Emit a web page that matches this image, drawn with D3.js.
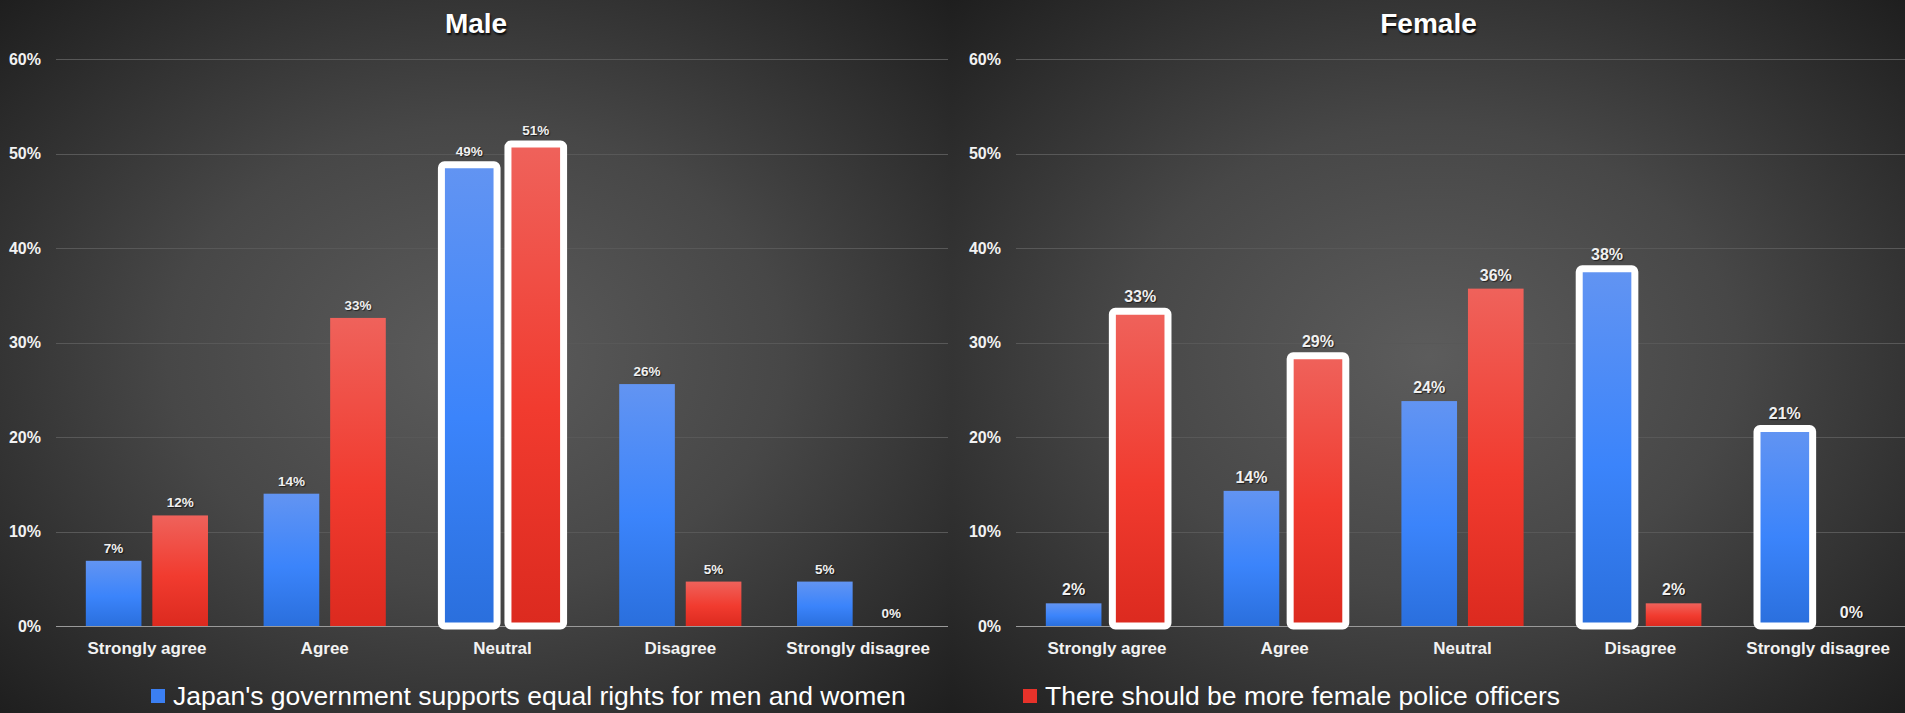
<!DOCTYPE html>
<html>
<head>
<meta charset="utf-8">
<script src="https://cdn.jsdelivr.net/npm/d3@7"></script>
<style>
  html, body { margin: 0; padding: 0; background: #2a2a2a; overflow: hidden; }
  svg { display: block; font-family: "Liberation Sans", Arial, sans-serif; }
</style>
</head>
<body>
<svg id="chart" width="1905" height="713"></svg>
<script>
// ---- data ----
const categories = ["Strongly agree", "Agree", "Neutral", "Disagree", "Strongly disagree"];
const panelTitles = ["Male", "Female"];
const seriesNames = [
  "Japan's government supports equal rights for men and women",
  "There should be more female police officers"
];
const maleGov = [6.9, 14.0, 48.8, 25.6, 4.7];
const malePolice = [11.7, 32.6, 51.0, 4.7, 0];
const femaleGov = [2.4, 14.3, 23.8, 37.8, 20.9];
const femalePolice = [33.3, 28.6, 35.7, 2.4, 0];
const maleHighlightGov = ["Neutral"];
const maleHighlightPolice = ["Neutral"];
const femaleHighlightGov = ["Disagree", "Strongly disagree"];
const femaleHighlightPolice = ["Strongly agree", "Agree"];
const yTicks = [0, 10, 20, 30, 40, 50, 60];

// ---- layout ----
const W = 1905, H = 713;
const svg = d3.select("#chart");
const defs = svg.append("defs");

const colors = {
  blue: ["#6294f2", "#3b84fb", "#2a6fdd"],
  red: ["#ef625b", "#f13b2f", "#dc2a1f"]
};
Object.entries(colors).forEach(([k, c]) => {
  const g = defs.append("linearGradient").attr("id", "grad-" + k)
    .attr("x1", 0).attr("y1", 0).attr("x2", 0).attr("y2", 1);
  g.append("stop").attr("offset", "0%").attr("stop-color", c[0]);
  g.append("stop").attr("offset", "55%").attr("stop-color", c[1]);
  g.append("stop").attr("offset", "100%").attr("stop-color", c[2]);
});

const bg = defs.append("radialGradient").attr("id", "bg")
  .attr("cx", "50%").attr("cy", "50%").attr("r", "72%");
bg.append("stop").attr("offset", "0%").attr("stop-color", "#5c5c5c");
bg.append("stop").attr("offset", "45%").attr("stop-color", "#474747");
bg.append("stop").attr("offset", "100%").attr("stop-color", "#1d1d1d");

const panels = [
  { title: panelTitles[0], x0: 0, x1: 952, plot: [58, 947], gov: maleGov, police: malePolice,
    hlGov: maleHighlightGov, hlPolice: maleHighlightPolice, labelSize: 13.5 },
  { title: panelTitles[1], x0: 952, x1: 1905, plot: [1018, 1907], gov: femaleGov, police: femalePolice,
    hlGov: femaleHighlightGov, hlPolice: femaleHighlightPolice, labelSize: 16 }
];

const y = d3.scaleLinear().domain([0, 60]).range([626, 59]);
const fmt = v => d3.format(".0f")(v) + "%";

panels.forEach((p, pi) => {
  const g = svg.append("g");
  g.append("rect").attr("x", p.x0).attr("y", 0).attr("width", p.x1 - p.x0).attr("height", H)
    .attr("fill", "url(#bg)");

  g.append("text").attr("x", (p.x0 + p.x1) / 2).attr("y", 33)
    .attr("text-anchor", "middle").attr("fill", "#ffffff")
    .attr("font-size", 28).attr("font-weight", "bold")
    .style("text-shadow", "1px 2px 2px rgba(0,0,0,0.85)")
    .text(p.title);

  const x0 = d3.scaleBand().domain(categories).range(p.plot).padding(0);
  const x1 = d3.scaleBand().domain(["gov", "police"]).range([0, x0.bandwidth()])
    .paddingInner(0.164).paddingOuter(0.418);

  // gridlines
  g.append("g").selectAll("line").data(yTicks).join("line")
    .attr("x1", p.plot[0] - 2).attr("x2", Math.min(p.plot[1] + 1, W))
    .attr("y1", d => Math.round(y(d)) + 0.5).attr("y2", d => Math.round(y(d)) + 0.5)
    .attr("stroke", d => d === 0 ? "#9a9a9a" : "#585858")
    .attr("stroke-width", 1);

  // y axis
  const yAxis = g.append("g").attr("transform", `translate(${p.plot[0]},0)`)
    .call(d3.axisLeft(y).tickValues(yTicks).tickSize(0).tickPadding(17).tickFormat(d => d + "%"));
  yAxis.select(".domain").remove();
  yAxis.selectAll("text").attr("fill", "#f2f2f2").attr("font-size", 16).attr("font-weight", "bold")
    .attr("font-family", "Liberation Sans, Arial, sans-serif");

  // x axis
  const xAxis = g.append("g").attr("transform", `translate(0,${y(0)})`)
    .call(d3.axisBottom(x0).tickSize(0).tickPadding(16));
  xAxis.select(".domain").remove();
  xAxis.selectAll("text").attr("fill", "#f2f2f2").attr("font-size", 17).attr("font-weight", "bold")
    .attr("font-family", "Liberation Sans, Arial, sans-serif");

  const rows = [];
  categories.forEach((c, i) => {
    rows.push({ cat: c, key: "gov", v: p.gov[i], color: "blue", hl: p.hlGov.includes(c) });
    rows.push({ cat: c, key: "police", v: p.police[i], color: "red", hl: p.hlPolice.includes(c) });
  });

  const bars = g.append("g");
  bars.selectAll("rect").data(rows.filter(d => d.v > 0)).join("rect")
    .attr("x", d => x0(d.cat) + x1(d.key))
    .attr("width", x1.bandwidth())
    .attr("y", d => y(d.v))
    .attr("height", d => y(0) - y(d.v))
    .attr("fill", d => `url(#grad-${d.color})`)
    .attr("stroke", d => d.hl ? "#ffffff" : "none")
    .attr("stroke-width", d => d.hl ? 7 : 0)
    .attr("rx", d => d.hl ? 3 : 0);

  g.append("g").selectAll("text").data(rows).join("text")
    .attr("x", d => x0(d.cat) + x1(d.key) + x1.bandwidth() / 2)
    .attr("y", d => y(d.v) - (d.hl ? 9 : 8))
    .attr("text-anchor", "middle")
    .attr("fill", "#f0f0f0").attr("font-size", p.labelSize).attr("font-weight", "bold")
    .style("text-shadow", "1px 1px 1px rgba(0,0,0,0.6)")
    .text(d => fmt(d.v));
});

// legend
const legendItems = [
  { name: seriesNames[0], color: "#3b7ff2", x: 173 },
  { name: seriesNames[1], color: "#e7322a", x: 1045 }
];
const lg = svg.append("g").selectAll("g").data(legendItems).join("g");
lg.append("rect").attr("x", d => d.x - 22).attr("y", 689).attr("width", 14).attr("height", 14)
  .attr("fill", d => d.color);
lg.append("text").attr("x", d => d.x).attr("y", 705)
  .attr("fill", "#ffffff").attr("font-size", 26.5)
  .text(d => d.name);
</script>
</body>
</html>
